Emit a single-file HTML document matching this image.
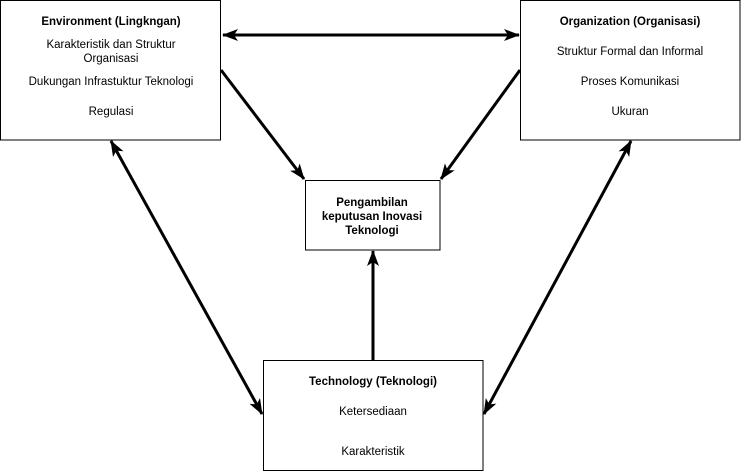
<!DOCTYPE html>
<html><head><meta charset="utf-8"><style>html,body{margin:0;padding:0;background:#fff}svg{display:block}</style></head>
<body>
<svg width="741" height="472" viewBox="0 0 741 472" xmlns="http://www.w3.org/2000/svg" font-family="Liberation Sans, Arial, sans-serif" font-size="11.5" fill="#000" text-anchor="middle">
<defs>
<marker id="h" viewBox="0 0 16 12" refX="15" refY="6" markerWidth="16" markerHeight="12" orient="auto-start-reverse" markerUnits="userSpaceOnUse">
<path d="M0,0 L16,6 L0,12 L4,6 z" fill="#000"/>
</marker>
</defs>
<g stroke="#000" stroke-width="3" fill="none">
<line x1="223" y1="35" x2="519" y2="35" marker-start="url(#h)" marker-end="url(#h)"/>
<line x1="221" y1="70" x2="304" y2="179" marker-end="url(#h)"/>
<line x1="520" y1="70" x2="441" y2="179" marker-end="url(#h)"/>
<line x1="373" y1="360" x2="373" y2="251" marker-end="url(#h)"/>
<line x1="111" y1="141" x2="262" y2="414" marker-start="url(#h)" marker-end="url(#h)"/>
<line x1="631" y1="141" x2="484" y2="414" marker-start="url(#h)" marker-end="url(#h)"/>
</g>
<g fill="#fff" stroke="#000" stroke-width="1">
<rect x="0.5" y="0.5" width="220" height="139.5"/>
<rect x="520.5" y="0.5" width="219.5" height="139.5"/>
<rect x="305.5" y="180.5" width="134.5" height="69.5"/>
<rect x="263.5" y="360.5" width="219.5" height="110"/>
</g>
<g fill="#000" stroke="none">
<text x="111" y="25" font-weight="bold">Environment (Lingkngan)</text>
<text x="111" y="48">Karakteristik dan Struktur</text>
<text x="111" y="62">Organisasi</text>
<text x="111" y="85">Dukungan Infrastuktur Teknologi</text>
<text x="111" y="115">Regulasi</text>
<text x="630" y="25" font-weight="bold">Organization (Organisasi)</text>
<text x="630" y="55">Struktur Formal dan Informal</text>
<text x="630" y="85">Proses Komunikasi</text>
<text x="630" y="115">Ukuran</text>
<text x="372" y="206" font-weight="bold">Pengambilan</text>
<text x="372" y="220" font-weight="bold">keputusan Inovasi</text>
<text x="372" y="234" font-weight="bold">Teknologi</text>
<text x="373" y="385" font-weight="bold">Technology (Teknologi)</text>
<text x="373" y="415">Ketersediaan</text>
<text x="373" y="455">Karakteristik</text>
</g>
</svg>
</body></html>
